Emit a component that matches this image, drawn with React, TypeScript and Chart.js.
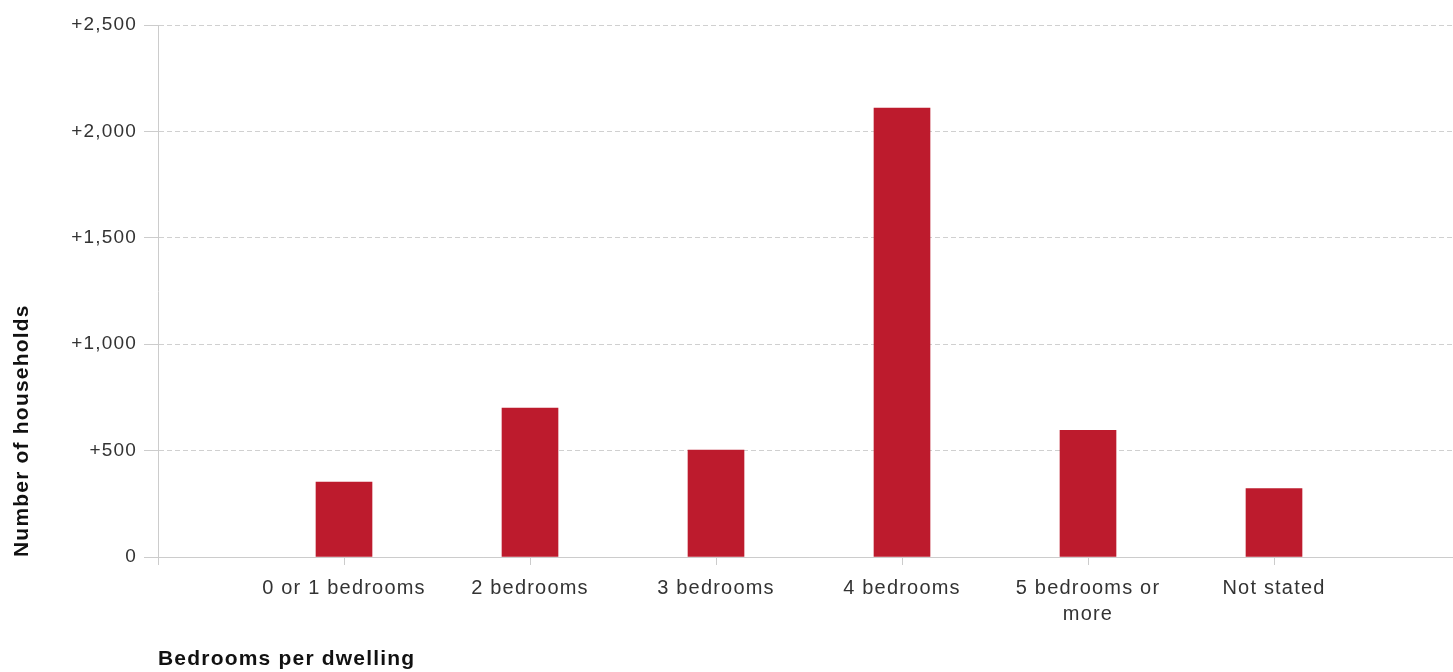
import React, { useEffect, useRef } from "react";
import { Chart, registerables } from "chart.js";

Chart.register(...registerables);

const categories: (string | string[])[] = [
  "",
  "0 or 1 bedrooms",
  "2 bedrooms",
  "3 bedrooms",
  "4 bedrooms",
  ["5 bedrooms or", "more"],
  "Not stated",
  "",
];
const households: (number | null)[] = [null, 352, 700, 502, 2110, 595, 322, null];
const yTicks = [0, 500, 1000, 1500, 2000, 2500];

const FONT = "'Liberation Sans', Arial, sans-serif";

const spacingPlugin = {
  id: "letterSpacing",
  beforeLayout(chart: any) {
    chart.ctx.letterSpacing = "1.2px";
  },
  beforeDraw(chart: any) {
    chart.ctx.letterSpacing = "1.2px";
  },
};

export default function App() {
  const ref = useRef<HTMLCanvasElement>(null);
  useEffect(() => {
    if (!ref.current) return;
    const chart = new Chart(ref.current, {
      type: "bar",
      data: {
        labels: categories,
        datasets: [
          {
            label: "Number of households",
            data: households,
            backgroundColor: "#BD1B2D",
            barThickness: 56,
          },
        ],
      },
      plugins: [spacingPlugin],
      options: {
        animation: false,
        responsive: false,
        layout: { padding: { top: 25, left: 0, right: 0, bottom: 0 } },
        plugins: { legend: { display: false }, tooltip: { enabled: false } },
        scales: {
          x: {
            offset: false,
            afterFit(scale: any) {
              scale.height = 115;
            },
            grid: {
              offset: false,
              drawOnChartArea: false,
              drawTicks: true,
              tickLength: 8,
              color: "#cccccc",
            },
            border: { display: true, color: "#cccccc" },
            ticks: {
              autoSkip: false,
              maxRotation: 0,
              padding: 10,
              color: "#333333",
              font: { family: FONT, size: 20, lineHeight: 1.32 },
            },
            title: {
              display: true,
              text: "Bedrooms per dwelling",
              align: "start",
              color: "#111111",
              font: { family: FONT, size: 21, weight: "bold" },
              padding: { top: 0, bottom: 0 },
            },
          },
          y: {
            min: 0,
            max: 2500,
            afterFit(scale: any) {
              scale.width = 158;
            },
            afterBuildTicks(scale: any) {
              scale.ticks = yTicks.map((v) => ({ value: v }));
            },
            grid: {
              color: "#d0d0d0",
              tickLength: 14,
              tickColor: "#cccccc",
            },
            border: { display: true, color: "#cccccc", dash: [5, 3] },
            ticks: {
              padding: 7,
              color: "#333333",
              font: { family: FONT, size: 19 },
              callback: (v: any) =>
                Number(v) === 0 ? "0" : "+" + Number(v).toLocaleString("en-US"),
            },
            title: {
              display: true,
              text: "Number of households",
              align: "start",
              color: "#111111",
              font: { family: FONT, size: 21, weight: "bold" },
              padding: { top: 10, bottom: 0 },
            },
          },
        },
      } as any,
    });
    return () => chart.destroy();
  }, []);
  return (
    <div
      style={{
        position: "fixed",
        left: 0,
        top: 0,
        width: 1453,
        height: 672,
        overflow: "hidden",
        background: "#fff",
      }}
    >
      <canvas ref={ref} width={1470} height={672} style={{ display: "block" }} />
    </div>
  );
}
